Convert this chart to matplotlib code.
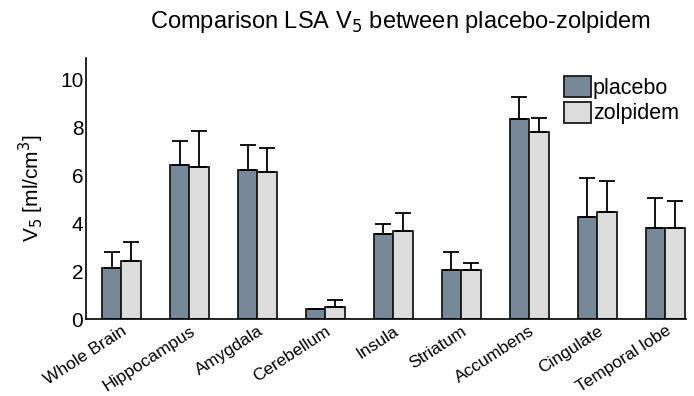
import matplotlib
matplotlib.use('Agg')
import matplotlib.pyplot as plt
import numpy as np

''' LSA V5 comparison, placebo vs zolpidem, grouped bars with upward error bars '''

regions = ['Whole Brain', 'Hippocampus', 'Amygdala', 'Cerebellum', 'Insula',
           'Striatum', 'Accumbens', 'Cingulate', 'Temporal lobe']
placebo = [2.15, 6.42, 6.22, 0.43, 3.55, 2.04, 8.35, 4.26, 3.79]
placebo_err = [0.67, 1.03, 1.06, 0.0, 0.44, 0.75, 0.91, 1.63, 1.26]
zolpidem = [2.44, 6.36, 6.14, 0.49, 3.68, 2.04, 7.81, 4.46, 3.82]
zolpidem_err = [0.78, 1.50, 1.01, 0.30, 0.75, 0.32, 0.58, 1.29, 1.11]


def main():
	plt.rcParams['font.family'] = ['Liberation Sans', 'DejaVu Sans']
	fig = plt.figure(figsize=(6.94, 3.96), dpi=100)
	ax = fig.add_axes([0.124, 0.194, 0.864, 0.66])

	x = np.arange(len(regions))
	w = 0.29
	err_kw = dict(ecolor='black', elinewidth=1.3, capsize=5.5, capthick=1.3)
	ax.bar(x - w/2, placebo, w, color='#778899', edgecolor='#1a1a1a', linewidth=1.3,
		yerr=[np.zeros(len(x)), placebo_err], error_kw=err_kw, label='placebo', zorder=2)
	ax.bar(x + w/2, zolpidem, w, color='#dcdcdc', edgecolor='#1a1a1a', linewidth=1.3,
		yerr=[np.zeros(len(x)), zolpidem_err], error_kw=err_kw, label='zolpidem', zorder=2)

	ax.set_xlim(-0.52, 8.3)
	ax.set_ylim(0, 10.9)
	ax.set_yticks([0, 2, 4, 6, 8, 10])
	ax.tick_params(axis='y', length=0, labelsize=15, pad=2)
	ax.tick_params(axis='x', length=0, labelsize=12.5, pad=3)
	ax.set_xticks(x)
	ax.set_xticklabels(regions, rotation=33, ha='right', rotation_mode='anchor')
	ax.set_ylabel(r'V$_5$ [ml/cm$^3$]', fontsize=15, labelpad=10)
	ax.spines['top'].set_visible(False)
	ax.spines['right'].set_visible(False)
	ax.spines['left'].set_linewidth(1.2)
	ax.spines['bottom'].set_linewidth(1.2)

	ax.legend(loc='upper right', bbox_to_anchor=(1.01, 0.98), frameon=False, fontsize=15.5,
		handlelength=1.25, handleheight=1.1, handletextpad=0.1, labelspacing=0.15,
		borderaxespad=0.2)

	fig.text(0.577, 0.945, r'Comparison LSA V$_5$ between placebo-zolpidem', ha='center',
		va='center', fontsize=17)
	fig.savefig('out.png', dpi=100)


if __name__ == "__main__":
	main()
